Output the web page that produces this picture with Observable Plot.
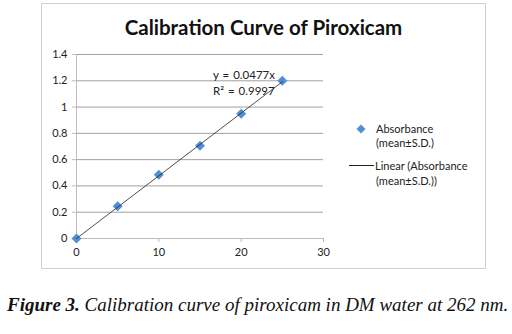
<!DOCTYPE html>
<html><head><meta charset="utf-8">
<script src="https://cdn.jsdelivr.net/npm/d3@7"></script>
<script src="https://cdn.jsdelivr.net/npm/@observablehq/plot@0.6"></script>
<style>
body{margin:0;background:#fff;}
#wrap{position:relative;width:512px;height:334px;overflow:hidden;font-family:Lato,sans-serif;color:#222;}
#frame{position:absolute;left:41px;top:3px;width:445px;height:266px;border:1px solid #cfcfcf;box-sizing:border-box;}
#title{position:absolute;left:41px;width:445px;top:13px;text-align:center;font-weight:bold;font-size:20.5px;line-height:28px;color:#111;}
#plot{position:absolute;left:0;top:0;}
.t{position:absolute;font-size:11px;line-height:13px;white-space:nowrap;color:#222;}
#caption{position:absolute;left:7px;top:293px;font-family:"Liberation Serif",serif;font-style:italic;font-size:19px;line-height:24px;white-space:nowrap;color:#111;}
</style></head>
<body>
<div id="wrap">
  <div id="frame"></div>
  <div id="title"></div>
  <div id="plot"></div>
  <div class="t" id="eq1" style="left:213px;top:68px;font-size:11.5px;word-spacing:1px"></div>
  <div class="t" id="eq2" style="left:213px;top:84px;font-size:11.5px;word-spacing:1px"></div>
  <svg style="position:absolute;left:355px;top:123px" width="12" height="12"><path d="M6,1.5L10.5,6L6,10.5L1.5,6Z" fill="#4f8fd6"/></svg>
  <div class="t" id="leg1" style="left:376px;top:122px"></div>
  <div class="t" id="leg2" style="left:376px;top:136px"></div>
  <div style="position:absolute;left:349px;top:165px;width:25px;height:1px;background:#222"></div>
  <div class="t" id="leg3" style="left:375px;top:159px"></div>
  <div class="t" id="leg4" style="left:376px;top:174px"></div>
  <div id="caption"></div>
</div>
<script>
const concentration = [0, 5, 10, 15, 20, 25];
const absorbance = [0, 0.245, 0.485, 0.705, 0.95, 1.2];
const xTicks = [0, 10, 20, 30];
const yTicks = [0, 0.2, 0.4, 0.6, 0.8, 1, 1.2, 1.4];
const slope = 0.0477;
const rSquared = 0.9997;
const trendX = [0, 25];
const titleText = "Calibration Curve of Piroxicam";
const figLabel = "Figure 3.";
const figText = " Calibration curve of piroxicam in DM water at 262 nm.";

const points = concentration.map((x, i) => ({x, y: absorbance[i]}));
const trend = trendX.map(x => ({x, y: slope * x}));

document.getElementById("title").textContent = titleText;
document.getElementById("eq1").textContent = `y = ${slope}x`;
document.getElementById("eq2").textContent = `R² = ${rSquared}`;
document.getElementById("leg1").textContent = "Absorbance";
document.getElementById("leg2").textContent = "(mean±S.D.)";
document.getElementById("leg3").textContent = "Linear (Absorbance";
document.getElementById("leg4").textContent = "(mean±S.D.))";
const cap = document.getElementById("caption");
const b = document.createElement("b"); b.textContent = figLabel;
cap.appendChild(b); cap.appendChild(document.createTextNode(figText));

const chart = Plot.plot({
  width: 512,
  height: 270,
  marginLeft: 76,
  marginRight: 189,
  marginTop: 54,
  marginBottom: 32,
  style: {fontFamily: "Lato, sans-serif", fontSize: "11px", background: "transparent", overflow: "visible"},
  x: {domain: [0, 30]},
  y: {domain: [0, 1.4]},
  marks: [
    Plot.ruleY(yTicks.filter(d => d > 0), {stroke: "#a0a0a0", strokeWidth: 1}),
    Plot.ruleX([0], {stroke: "#bdbdbd"}),
    Plot.ruleY([0], {stroke: "#bdbdbd"}),
    Plot.axisY(yTicks, {tickSize: 4, tickPadding: 5, stroke: "#bdbdbd", fill: "#222", label: null, tickFormat: d => String(d)}),
    Plot.axisX(xTicks, {tickSize: 4, tickPadding: 6, stroke: "#bdbdbd", fill: "#222", label: null, tickFormat: d => String(d)}),
    Plot.dot(points, {x: "x", y: "y", symbol: "diamond2", r: 4.5, fill: "#4f8fd6", stroke: "none"}),
    Plot.line(trend, {x: "x", y: "y", stroke: "#222", strokeWidth: 0.8})
  ]
});
document.getElementById("plot").appendChild(chart);
</script>
</body></html>
